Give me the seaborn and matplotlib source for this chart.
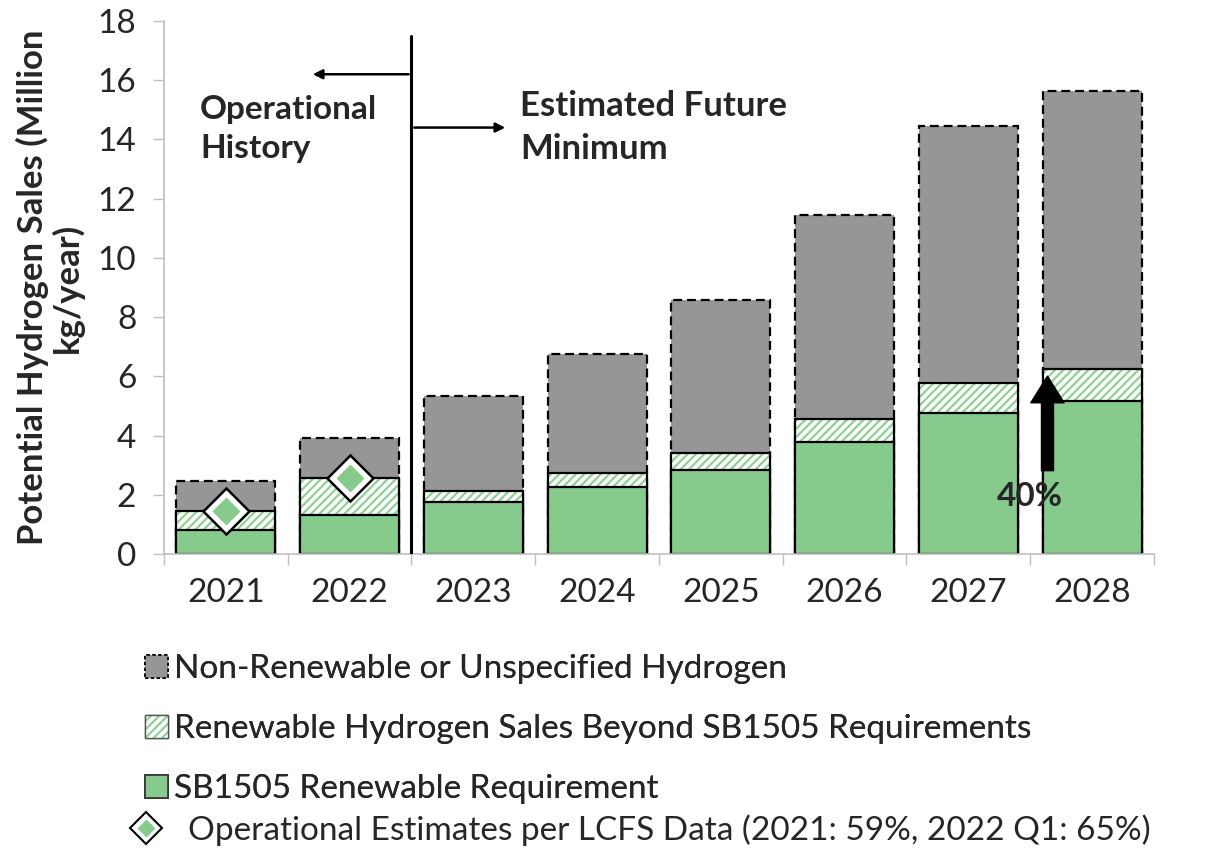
import numpy as np
import pandas as pd
import matplotlib
matplotlib.use('Agg')
import matplotlib.pyplot as plt
import seaborn as sns
from matplotlib.patches import Patch
from matplotlib.lines import Line2D

years = ['2021', '2022', '2023', '2024', '2025', '2026', '2027', '2028']
# million kg/year
sb1505_req = [0.82, 1.31, 1.76, 2.25, 2.84, 3.78, 4.77, 5.16]
renew_beyond = [0.64, 1.24, 0.35, 0.47, 0.58, 0.79, 1.00, 1.07]
non_renew = [1.01, 1.35, 3.22, 4.05, 5.17, 6.88, 8.67, 9.39]
lcfs_years = ['2021', '2022']
lcfs_est = [1.46, 2.55]

labels = ['Non-Renewable or Unspecified Hydrogen',
          'Renewable Hydrogen Sales Beyond SB1505 Requirements',
          'SB1505 Renewable Requirement',
          'Operational Estimates per LCFS Data (2021: 59%, 2022 Q1: 65%)']

green = '#87CB8C'
hatch_green = '#8FD094'
gray = '#969696'
axis_gray = '#BFBFBF'

df = pd.DataFrame({'year': years, 'req': sb1505_req,
                   'beyond': renew_beyond, 'non': non_renew})
df['renew_total'] = df['req'] + df['beyond']
df['total'] = df['renew_total'] + df['non']

sns.set_style('white')
plt.rcParams['font.family'] = ['Lato', 'DejaVu Sans']
plt.rcParams['hatch.linewidth'] = 1.6

fig = plt.figure(figsize=(12.07, 8.49), dpi=100)
ax = fig.add_axes([0.1359, 0.3475, 0.8201, 0.6278])

# total bars (gray, dashed outline)
sns.barplot(data=df, x='year', y='total', color=gray, ax=ax, width=0.8,
            saturation=1)
for p in ax.containers[-1]:
    p.set_facecolor(gray)
    p.set_edgecolor('black')
    p.set_linewidth(1.6)
    p.set_linestyle((0, (4, 2.2)))

# renewable total (hatched)
sns.barplot(data=df, x='year', y='renew_total', color='white', ax=ax,
            width=0.8, saturation=1)
for p in ax.containers[-1]:
    p.set_facecolor('white')
    p.set_edgecolor(hatch_green)
    p.set_hatch('////')
    p.set_linewidth(0)
sns.barplot(data=df, x='year', y='renew_total', fill=False, ax=ax,
            width=0.8, color='black')
for p in ax.containers[-1]:
    p.set_edgecolor('black')
    p.set_linewidth(1.6)

# SB1505 requirement
sns.barplot(data=df, x='year', y='req', color=green, ax=ax, width=0.8,
            saturation=1)
for p in ax.containers[-1]:
    p.set_facecolor(green)
    p.set_edgecolor('black')
    p.set_linewidth(1.6)

# LCFS diamonds
lcfs_pos = [years.index(y) for y in lcfs_years]
ax.plot(lcfs_pos, lcfs_est, ls='none', marker='D', ms=23,
        mfc='white', mec='black', mew=1.8, zorder=5)
ax.plot(lcfs_pos, lcfs_est, ls='none', marker='D', ms=14,
        mfc=green, mec='none', zorder=6)

# history / future divider
ax.plot([1.5, 1.5], [0, 17.5], color='black', lw=2.2, zorder=4)
ax.annotate('', xy=(0.68, 16.2), xytext=(1.5, 16.2),
            arrowprops=dict(arrowstyle='-|>', color='black', lw=1.8,
                            mutation_scale=14))
ax.annotate('', xy=(2.28, 14.4), xytext=(1.5, 14.4),
            arrowprops=dict(arrowstyle='-|>', color='black', lw=1.8,
                            mutation_scale=14))
ax.text(-0.21, 14.35, 'Operational\nHistory', fontsize=24, fontweight='bold',
        ha='left', va='center', linespacing=1.45)
ax.text(2.38, 14.4, 'Estimated Future\nMinimum', fontsize=25,
        fontweight='bold', ha='left', va='center', linespacing=1.4)

# 40% arrow in 2028
ax.annotate('', xy=(6.64, 6.1), xytext=(6.64, 2.72),
            arrowprops=dict(arrowstyle='simple,head_length=0.8,head_width=1.0,tail_width=0.36',
                            color='black', mutation_scale=24))
ax.text(6.5, 1.93, '40%', fontsize=24, fontweight='bold', ha='center',
        va='center')

ax.set_ylim(0, 18)
ax.set_xlim(-0.5, 7.5)
ax.set_yticks(np.arange(0, 19, 2))
ax.set_xlabel('')
ax.set_ylabel('Potential Hydrogen Sales (Million\nkg/year)', fontsize=25,
              fontweight='bold', labelpad=10, linespacing=1.05)
ax.tick_params(axis='y', labelsize=24, length=8, width=1, color=axis_gray,
               pad=12, left=True, direction='out')
ax.tick_params(axis='x', which='major', labelsize=24, length=0, pad=17)
ax.set_xticks(np.arange(-0.5, 8, 1), minor=True)
ax.tick_params(axis='x', which='minor', length=8, width=1, color=axis_gray,
               bottom=True, direction='out')
for s in ['top', 'right']:
    ax.spines[s].set_visible(False)
for s in ['left', 'bottom']:
    ax.spines[s].set_color(axis_gray)
    ax.spines[s].set_linewidth(1.2)

# legend
hatch_handle = (Patch(facecolor='white', edgecolor=hatch_green, hatch='////', lw=0),
                Patch(facecolor='none', edgecolor='#555555', lw=1.0))
bar_handles = [
    Patch(facecolor=gray, edgecolor='black', linestyle=(0, (2, 1.5)), lw=1.2),
    hatch_handle,
    Patch(facecolor=green, edgecolor='#333333', lw=1.2),
]
leg1 = fig.legend(bar_handles, labels[:3], loc='upper left',
                  bbox_to_anchor=(0.109, 0.245), frameon=False, fontsize=24,
                  handlelength=0.68, handleheight=0.68, handletextpad=0.2,
                  labelspacing=0.9, borderaxespad=0)
fig.add_artist(leg1)
diamond = (Line2D([], [], ls='none', marker='D', ms=16, mfc='white',
                  mec='black', mew=1.5),
           Line2D([], [], ls='none', marker='D', ms=9, mfc=green, mec='none'))
fig.legend([diamond], labels[3:], loc='upper left',
           bbox_to_anchor=(0.096, 0.057), frameon=False, fontsize=24,
           handlelength=1.0, handletextpad=0.75, borderaxespad=0)

fig.savefig('out.png', dpi=100)
